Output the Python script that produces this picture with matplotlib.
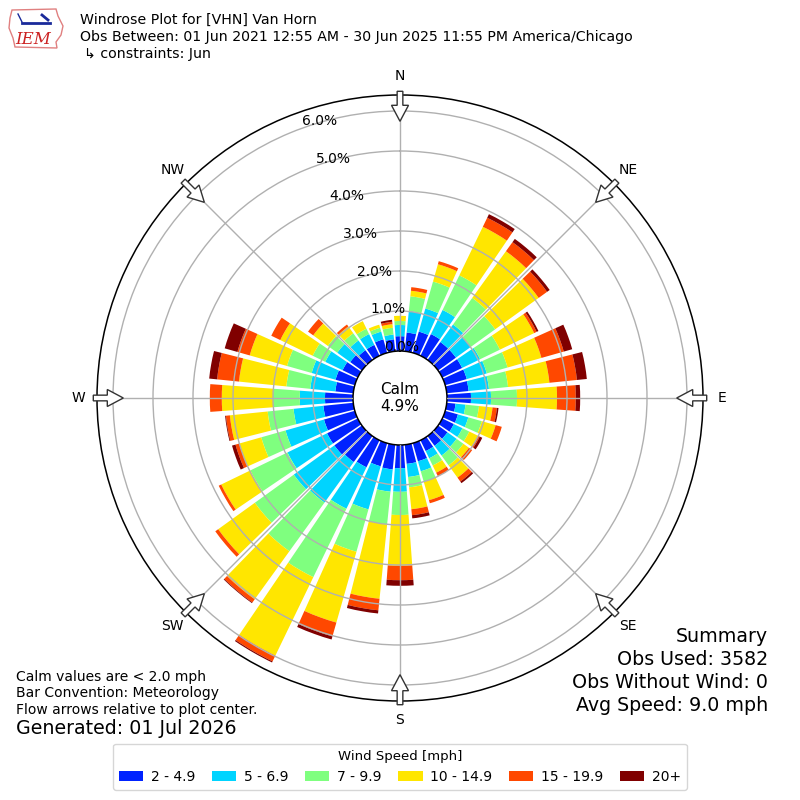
import numpy as np
import matplotlib
matplotlib.use("Agg")
import matplotlib.pyplot as plt
from matplotlib.patches import Patch, FancyArrow, Polygon

plt.rcParams['font.family'] = ['DejaVu Sans']

# direction bins (deg, meteorological) and speed classes
directions = list(range(0, 360, 10))
speed_labels = ['2 - 4.9', '5 - 6.9', '7 - 9.9', '10 - 14.9', '15 - 19.9', '20+']
speed_colors = ['#0022ff', '#00d4ff', '#7fff7f', '#ffe600', '#ff4800', '#800000']

# frequency [%] of each speed class per direction
f_2_5 = [0.37, 0.47, 0.55, 0.60, 0.55, 0.55, 0.55, 0.56, 0.55, 0.60,
         0.22, 0.33, 0.32, 0.29, 0.30, 0.30, 0.47, 0.48, 0.58, 0.62,
         0.60, 0.75, 0.80, 0.85, 0.85, 0.80, 0.75, 0.70, 0.45, 0.50,
         0.42, 0.36, 0.30, 0.30, 0.35, 0.30]
f_5_7 = [0.28, 0.54, 0.60, 0.67, 0.54, 0.45, 0.50, 0.52, 0.51, 0.50,
         0.25, 0.27, 0.24, 0.28, 0.30, 0.20, 0.26, 0.33, 0.59, 0.56,
         1.12, 1.15, 1.25, 1.25, 1.10, 1.00, 0.75, 0.63, 0.63, 0.62,
         0.48, 0.40, 0.30, 0.30, 0.20, 0.12]
f_7_10 = [0.10, 0.37, 0.70, 0.96, 0.82, 0.76, 0.55, 0.54, 0.48, 0.65,
          0.34, 0.35, 0.19, 0.21, 0.30, 0.20, 0.27, 0.26, 0.58, 0.82,
          1.10, 1.90, 1.50, 1.20, 1.03, 0.63, 0.65, 0.67, 0.60, 0.64,
          0.35, 0.29, 0.22, 0.15, 0.10, 0.17]
f_10_15 = [0.13, 0.14, 0.45, 1.35, 1.44, 1.34, 0.95, 0.88, 1.04, 1.00,
           0.34, 0.36, 0.24, 0.17, 0.38, 0.20, 0.48, 0.55, 1.27, 1.87,
           1.84, 2.18, 1.48, 1.13, 0.81, 0.57, 0.95, 1.28, 1.19, 0.97,
           0.90, 0.45, 0.21, 0.21, 0.08, 0.09]
f_15_20 = [0.00, 0.09, 0.08, 0.25, 0.28, 0.26, 0.07, 0.58, 0.69, 0.47,
           0.11, 0.16, 0.05, 0.10, 0.12, 0.10, 0.08, 0.15, 0.36, 0.29,
           0.36, 0.16, 0.10, 0.09, 0.07, 0.10, 0.10, 0.30, 0.55, 0.32,
           0.25, 0.16, 0.06, 0.00, 0.00, 0.06]
f_20p = [0.00, 0.00, 0.00, 0.10, 0.10, 0.08, 0.05, 0.22, 0.25, 0.11,
         0.04, 0.00, 0.07, 0.00, 0.05, 0.00, 0.00, 0.08, 0.14, 0.08,
         0.08, 0.03, 0.02, 0.00, 0.00, 0.09, 0.02, 0.00, 0.20, 0.33,
         0.00, 0.00, 0.00, 0.00, 0.00, 0.05]
series = [f_2_5, f_5_7, f_7_10, f_10_15, f_15_20, f_20p]

calm_pct = 4.9
r_ticks = [0, 1, 2, 3, 4, 5, 6]
compass = ['N', 'NE', 'E', 'SE', 'S', 'SW', 'W', 'NW']

fig = plt.figure(figsize=(8, 8), dpi=100)
ax = fig.add_axes([0.12125, 0.12375, 0.7575, 0.7575], projection='polar')
ax.set_theta_zero_location('N')
ax.set_theta_direction(-1)
ax.set_rorigin(-1.175)
ax.set_ylim(0, 6.4)

theta = np.radians(directions)
bottom = np.zeros(len(directions))
for vals, col in zip(series, speed_colors):
    vals = np.array(vals)
    ax.bar(theta, vals, width=0.146, bottom=bottom, color=col,
           edgecolor='none', linewidth=0, zorder=1)
    bottom = bottom + vals

ax.set_axisbelow(False)
ax.set_yticks(r_ticks[1:])
ax.set_yticklabels([])
ax.set_xticks(np.radians(np.arange(0, 360, 45)))
ax.set_xticklabels([])
ax.grid(True, color='#b0b0b0', linewidth=1)
ax.spines['polar'].set_color('black')
ax.spines['polar'].set_linewidth(1.1)
ax.spines['inner'].set_visible(True)
ax.spines['inner'].set_color('black')
ax.spines['inner'].set_linewidth(1.1)

# radial labels
for r in r_ticks:
    ax.text(np.radians(340), r, f'{r:.1f}%', ha='left', va='bottom',
            fontsize=10, zorder=6)

# compass labels and flow arrows
for i, lab in enumerate(compass):
    a = np.radians(i * 45)
    ux, uy = np.sin(a), np.cos(a)
    rl = 0.5 * 322 / 303
    ax.text(0.5 + rl * ux, 0.5 + rl * uy, lab, transform=ax.transAxes,
            ha='center', va='center', fontsize=10)
    rt, rh = 306.7 / 606, 276.7 / 606
    arr = FancyArrow(0.5 + rt * ux, 0.5 + rt * uy, -(rt - rh) * ux, -(rt - rh) * uy,
                     width=5.7 / 606, head_width=17 / 606, head_length=16 / 606,
                     length_includes_head=True, transform=ax.transAxes,
                     facecolor='white', edgecolor='#333333', linewidth=1,
                     clip_on=False, zorder=7)
    ax.add_patch(arr)

ax.text(0.5, 0.5, f'Calm\n{calm_pct:.1f}%', transform=ax.transAxes,
        ha='center', va='center', fontsize=11, linespacing=1.1, zorder=6)

# header
W = 800.0
def fx(x):
    return x / W
def fy(y):
    return 1 - y / W

fig.text(fx(80), fy(20), 'Windrose Plot for [VHN] Van Horn', fontsize=10.15, va='center')
fig.text(fx(80), fy(37), 'Obs Between: 01 Jun 2021 12:55 AM - 30 Jun 2025 11:55 PM America/Chicago',
         fontsize=10.15, va='center')
fig.text(fx(84), fy(54), '\u21b3 constraints: Jun', fontsize=10.15, va='center')

# logo
iowa = [(12, 10), (56, 9), (58, 16), (63, 26), (61, 35), (56, 42), (57, 48),
        (15, 47), (13, 38), (9, 28), (10, 18)]
fig.patches.append(Polygon([(fx(x), fy(y)) for x, y in iowa], closed=True,
                           fill=False, edgecolor='#e08080', linewidth=1,
                           transform=fig.transFigure))
fig.lines.append(plt.Line2D([fx(22), fx(50)], [fy(23), fy(23)], color='#1a2a9a',
                            linewidth=2, transform=fig.transFigure))
fig.lines.append(plt.Line2D([fx(42), fx(48)], [fy(15), fy(20)], color='#1a2a9a',
                            linewidth=2, transform=fig.transFigure))
fig.lines.append(plt.Line2D([fx(18), fx(22)], [fy(14), fy(22)], color='#1a2a9a',
                            linewidth=1, transform=fig.transFigure))
fig.text(fx(33), fy(39), 'IEM', fontsize=12, color='#cc2222', family='serif',
         style='italic', ha='center', va='center')

# footer notes
fig.text(fx(16), fy(677), 'Calm values are < 2.0 mph', fontsize=10, va='center')
fig.text(fx(16), fy(693), 'Bar Convention: Meteorology', fontsize=10, va='center')
fig.text(fx(16), fy(710), 'Flow arrows relative to plot center.', fontsize=10, va='center')
fig.text(fx(16), fy(729), 'Generated: 01 Jul 2026', fontsize=13.7, va='center')

summary = ['Summary', 'Obs Used: 3582', 'Obs Without Wind: 0', 'Avg Speed: 9.0 mph']
for k, s in enumerate(summary):
    fig.text(fx(768), fy(636 + 23.3 * k), s, fontsize=13.7, ha='right', va='center')

handles = [Patch(facecolor=c, edgecolor='none') for c in speed_colors]
fig.legend(handles, speed_labels, loc='lower center', bbox_to_anchor=(0.5, 10 / W),
           borderaxespad=0, ncol=6, title='Wind Speed [mph]', fontsize=10,
           title_fontsize=9.5, handlelength=1.75, handleheight=0.75,
           handletextpad=0.55, columnspacing=1.2, borderpad=0.45,
           frameon=True, fancybox=True, edgecolor='#cccccc')

fig.savefig('out.png', dpi=100)
